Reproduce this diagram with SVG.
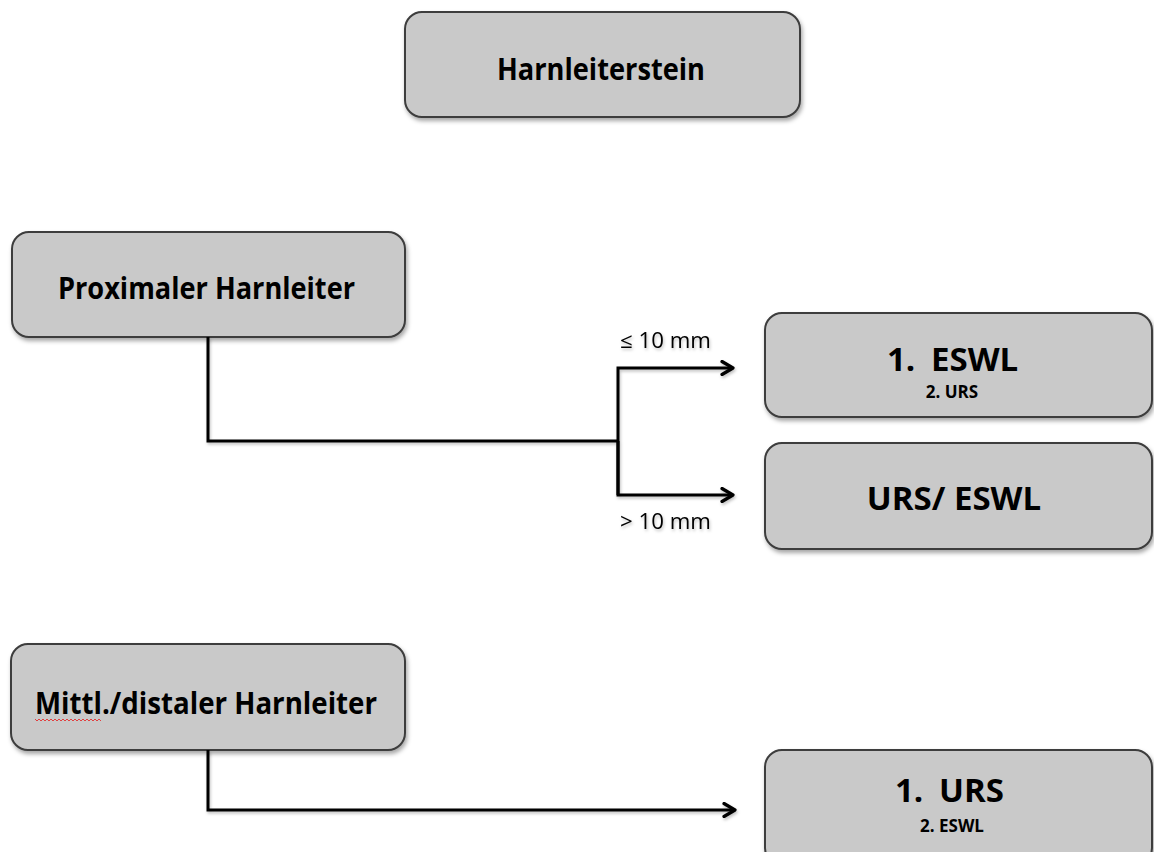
<svg xmlns="http://www.w3.org/2000/svg" width="1154" height="852" viewBox="0 0 1154 852">
  <defs>
    <filter id="shadow" x="-10%" y="-10%" width="130%" height="140%">
      <feDropShadow dx="1.5" dy="3" stdDeviation="2" flood-color="#000" flood-opacity="0.35"/>
    </filter>
    <filter id="lineShadow" x="-5%" y="-5%" width="110%" height="110%">
      <feDropShadow dx="1" dy="2" stdDeviation="1.5" flood-color="#000" flood-opacity="0.25"/>
    </filter>
    <marker id="arrow" viewBox="0 0 16 16" refX="14" refY="8" markerWidth="16" markerHeight="16" markerUnits="userSpaceOnUse" orient="auto">
      <path d="M3,1.5 L14,8 L3,14.5" fill="none" stroke="#000" stroke-width="3.2" stroke-linecap="round" stroke-linejoin="round"/>
    </marker>
  </defs>
  <style>
    .box { fill: #c9c9c9; stroke: #3c3c3c; stroke-width: 2; filter: url(#shadow); }
    .lbl { font-family: "Open Sans", "Noto Sans", "Liberation Sans", sans-serif; font-weight: bold; fill: #000; }
    .big { font-size: 31px; }
    .main { font-size: 33px; }
    .sub { font-size: 17px; }
    .cond { font-family: "Open Sans", "Noto Sans", "Liberation Sans", sans-serif; font-size: 21px; fill: #000; }
    .wire { fill: none; stroke: #000; stroke-width: 3; stroke-linejoin: miter; }
  </style>

  <rect width="1154" height="852" fill="#fff"/>

  <!-- root -->
  <g id="harnleiterstein">
    <rect class="box" x="405" y="12" width="395" height="105" rx="17"/>
    <text class="lbl big" x="497" y="80" textLength="208" lengthAdjust="spacingAndGlyphs">Harnleiterstein</text>
  </g>

  <!-- proximal ureter -->
  <g id="proximal">
    <rect class="box" x="12" y="232" width="393" height="105" rx="17"/>
    <text class="lbl big" x="58" y="299" textLength="297" lengthAdjust="spacingAndGlyphs">Proximaler Harnleiter</text>
  </g>

  <!-- options for proximal stones -->
  <g id="eswl-first">
    <rect class="box" x="765" y="313" width="387" height="104" rx="17"/>
    <text class="lbl main" y="371"><tspan x="887">1.</tspan><tspan x="931">ESWL</tspan></text>
    <text class="lbl sub" x="952" y="398" text-anchor="middle">2.  URS</text>
  </g>

  <g id="urs-eswl">
    <rect class="box" x="765" y="443" width="387" height="106" rx="17"/>
    <text class="lbl main" x="954" y="510" text-anchor="middle">URS/ ESWL</text>
  </g>

  <!-- middle / distal ureter -->
  <g id="distal">
    <rect class="box" x="11" y="644" width="394" height="106" rx="17"/>
    <text class="lbl big" x="35" y="714" textLength="342" lengthAdjust="spacingAndGlyphs">Mittl./distaler Harnleiter</text>
    <path d="M35,719 l2,2 l2,-2 l2,2 l2,-2 l2,2 l2,-2 l2,2 l2,-2 l2,2 l2,-2 l2,2 l2,-2 l2,2 l2,-2 l2,2 l2,-2 l2,2 l2,-2 l2,2 l2,-2 l2,2 l2,-2 l2,2 l2,-2 l2,2 l2,-2 l2,2 l2,-2 l2,2 l2,-2 l2,2 l2,-2 l2,2" fill="none" stroke="#e04040" stroke-width="1"/>
  </g>

  <g id="urs-first">
    <rect class="box" x="765" y="750" width="387" height="115" rx="17"/>
    <text class="lbl main" y="802"><tspan x="895">1.</tspan><tspan x="939">URS</tspan></text>
    <text class="lbl sub" x="952" y="832" text-anchor="middle">2. ESWL</text>
  </g>

  <!-- connectors -->
  <g id="connectors" filter="url(#lineShadow)">
    <path class="wire" d="M208,337 V441 H618"/>
    <path class="wire" d="M618,495 V368 H733" marker-end="url(#arrow)"/>
    <path class="wire" d="M618,441 V495 H733" marker-end="url(#arrow)"/>
    <path class="wire" d="M208,750 V810 H735" marker-end="url(#arrow)"/>
    <text class="cond" x="620" y="348" textLength="91" lengthAdjust="spacingAndGlyphs">≤ 10 mm</text>
    <text class="cond" x="620" y="529" textLength="91" lengthAdjust="spacingAndGlyphs">&gt; 10 mm</text>
  </g>
</svg>
